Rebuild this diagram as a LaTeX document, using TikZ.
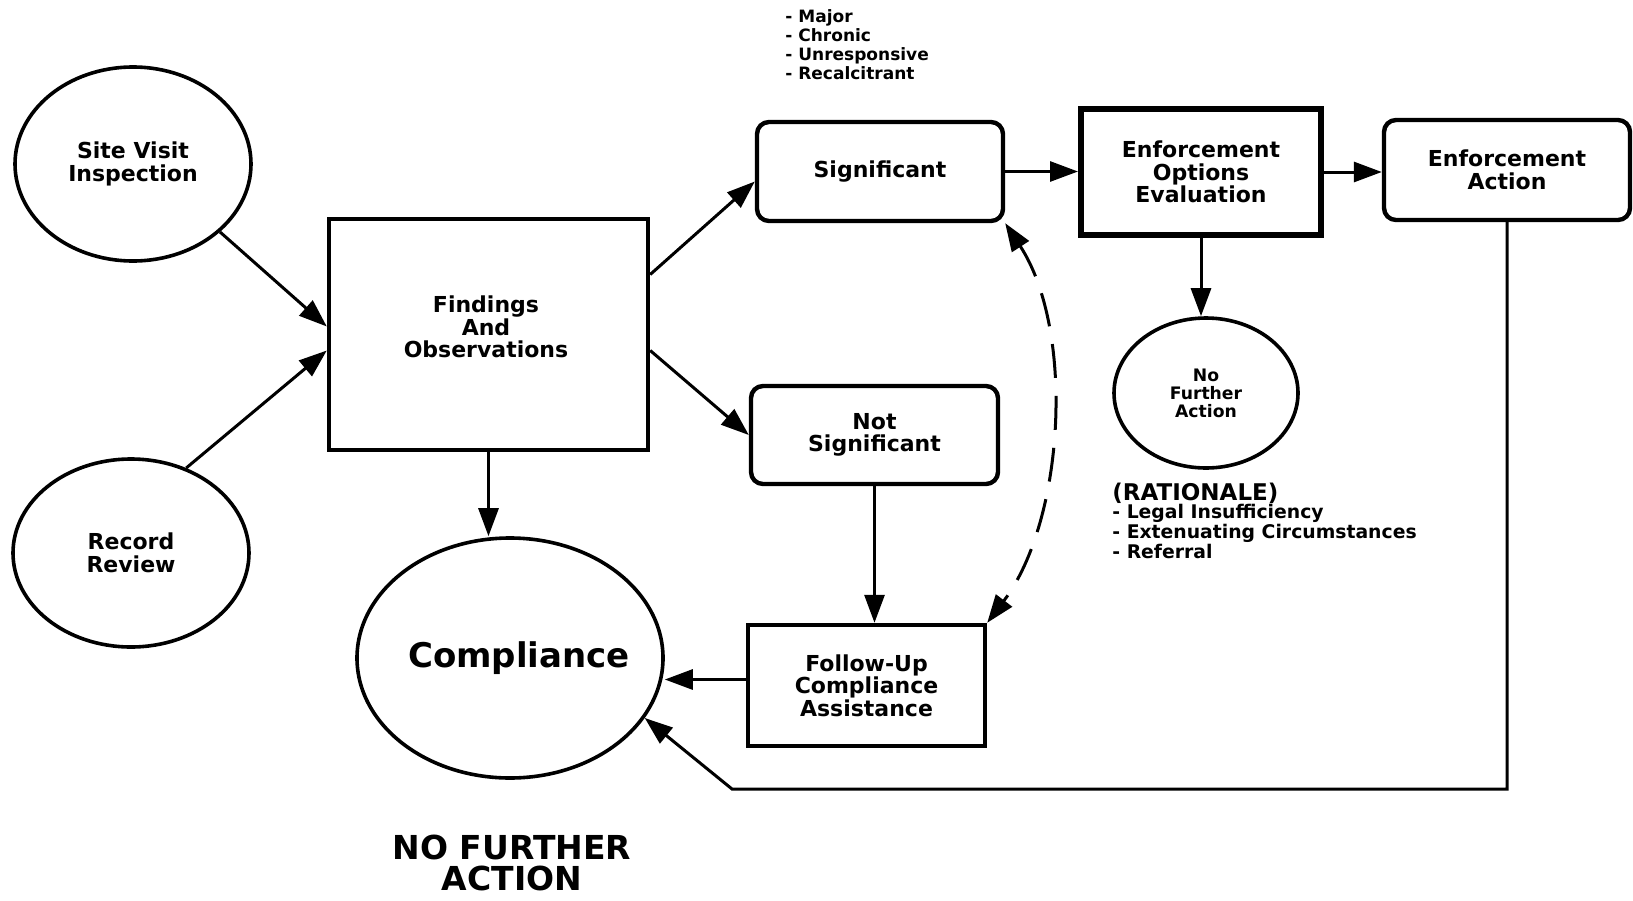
\documentclass[tikz,border=0pt]{standalone}
\usepackage{fontspec}
\setmainfont{DejaVu Sans}
\usetikzlibrary{shapes.geometric,arrows.meta,positioning}

\begin{document}
\begin{tikzpicture}[x=0.5pt,y=-0.5pt,
    every node/.style={font=\bfseries\fontsize{11}{11.3}\selectfont,align=center,inner sep=0pt},
    oval/.style={draw,ellipse,line width=1.8pt},
    sqbox/.style={draw,rectangle,line width=2.2pt},
    rbox/.style={draw,rectangle,rounded corners=6pt,line width=2.2pt},
    arr/.style={line width=1.5pt,-{Triangle[length=14pt,width=10pt]}},
    dasharr/.style={line width=1.5pt,dash pattern=on 17pt off 9pt,
      {Triangle[length=14pt,width=10pt]}-{Triangle[length=14pt,width=10pt]}},
    smalllist/.style={font=\bfseries\fontsize{8.5}{9.5}\selectfont,align=left}]
  \useasboundingbox (0,0) rectangle (1633,900);

  % inputs
  \node[oval,minimum width=118pt,minimum height=97pt] (site) at (133,164) {Site Visit\\Inspection};
  \node[oval,minimum width=118pt,minimum height=94pt] (record) at (131,553) {Record\\Review};
  \node[sqbox,minimum width=159.5pt,minimum height=115.5pt] (findings) at (488.5,334.5) {};
  \node (findingstext) at (486,327) {Findings\\And\\Observations};
  \node[oval,minimum width=153pt,minimum height=120pt] (compliance) at (510,658) {};
  \node[font=\bfseries\fontsize{17}{18}\selectfont] (compliancetext) at (519,658) {Compliance};

  % middle column
  \node[rbox,minimum width=123pt,minimum height=49.5pt] (significant) at (880,171.5) {Significant};
  \node[rbox,minimum width=123.5pt,minimum height=49pt] (notsig) at (874.5,435) {Not\\Significant};
  \node[sqbox,minimum width=118.5pt,minimum height=60.5pt] (followup) at (866.5,685.5)
    {Follow-Up\\Compliance\\Assistance};
  \node[smalllist,anchor=north west] (criteria) at (785,9)
    {- Major\\- Chronic\\- Unresponsive\\- Recalcitrant};

  % enforcement
  \node[sqbox,line width=3pt,minimum width=120pt,minimum height=63pt] (enfopt) at (1201,172)
    {Enforcement\\Options\\Evaluation};
  \node[rbox,minimum width=123pt,minimum height=50pt] (enfaction) at (1507,170)
    {Enforcement\\Action};
  \node[oval,minimum width=92pt,minimum height=75pt,
    font=\bfseries\fontsize{8.6}{9}\selectfont] (nfa) at (1206,393) {No\\Further\\Action};
  \node[anchor=west,font=\bfseries\fontsize{11.5}{12}\selectfont] (rattitle) at (1112,493) {(RATIONALE)};
  \node[anchor=north west,font=\bfseries\fontsize{9.4}{10}\selectfont,align=left] (ratlist)
    at (rattitle.south west) {- Legal Insufficiency\\- Extenuating Circumstances\\- Referral};

  \node[font=\bfseries\fontsize{16.5}{15.5}\selectfont] (nofurther) at (512,863) {NO FURTHER\\ACTION};

  % connectors
  \coordinate (bend) at (732,789);
  \draw[arr] (site.-38) -- ([yshift=4pt]findings.west);
  \draw[arr] (record.57) -- ([yshift=-8pt]findings.west);
  \draw[arr] ([yshift=30pt]findings.east) -- ([yshift=-5pt]significant.west);
  \draw[arr] ([yshift=-8pt]findings.east) -- (notsig.west);
  \draw[arr] (findings.south) -- (findings.south |- compliance.north);
  \draw[arr] (notsig.south) -- (notsig.south |- followup.north);
  \draw[arr] ([yshift=3pt]followup.west) -- ([yshift=3pt]followup.west -| compliance.east);
  \draw[arr] (significant.east) -- (significant.east -| enfopt.west);
  \draw[arr] (enfopt.east) -- (enfopt.east -| enfaction.west);
  \draw[arr] (enfopt.south) -- (enfopt.south |- nfa.north);
  \draw[arr] (enfaction.south) |- (bend) -- (compliance.-24);
  \draw[dasharr] (significant.south east) .. controls (1075,330) and (1065,520) .. (followup.north east);
\end{tikzpicture}
\end{document}
